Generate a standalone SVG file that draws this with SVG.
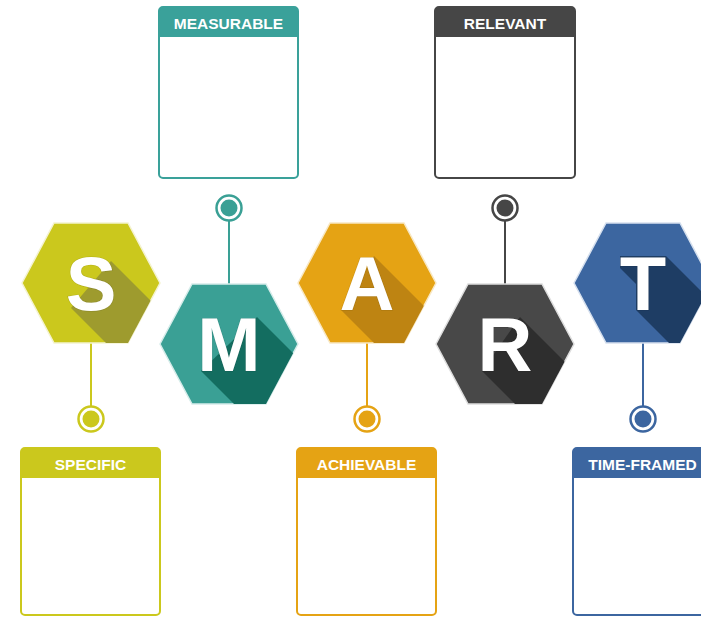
<svg xmlns="http://www.w3.org/2000/svg" width="701" height="617" viewBox="0 0 701 617">
<style>
.lbl{font-family:"Liberation Sans",Arial,sans-serif;font-weight:bold;font-size:15.5px;fill:#ffffff;text-anchor:middle}
.big{font-family:"Liberation Sans",Arial,sans-serif;font-weight:bold;font-size:76px;fill:#ffffff;text-anchor:middle;stroke:rgba(0,0,0,0.12);stroke-width:1.2;paint-order:stroke}
.frame{fill:none;stroke-width:2}
.conn{stroke-width:2;fill:none}
.ring{fill:#ffffff;stroke-width:2.5}
</style>
<defs>
<path id="hex" d="M-69,0 L-37,-60 L37,-60 L69,0 L37,60 L-37,60 Z"/>
<clipPath id="hexclip" clipPathUnits="userSpaceOnUse"><use href="#hex"/></clipPath>
</defs>
<rect width="701" height="617" fill="#ffffff"/>

<g id="connectors">
<line class="conn" x1="91" y1="342" x2="91" y2="406" stroke="#cbc81d"/>
<circle class="ring" cx="91" cy="419" r="12.5" stroke="#cbc81d"/><circle cx="91" cy="419" r="8.5" fill="#cbc81d"/>
<line class="conn" x1="229" y1="221" x2="229" y2="285" stroke="#3aa095"/>
<circle class="ring" cx="229" cy="208" r="12.5" stroke="#3aa095"/><circle cx="229" cy="208" r="8.5" fill="#3aa095"/>
<line class="conn" x1="367" y1="342" x2="367" y2="406" stroke="#e5a314"/>
<circle class="ring" cx="367" cy="419" r="12.5" stroke="#e5a314"/><circle cx="367" cy="419" r="8.5" fill="#e5a314"/>
<line class="conn" x1="505" y1="221" x2="505" y2="285" stroke="#464646"/>
<circle class="ring" cx="505" cy="208" r="12.5" stroke="#464646"/><circle cx="505" cy="208" r="8.5" fill="#464646"/>
<line class="conn" x1="643" y1="342" x2="643" y2="406" stroke="#3c66a0"/>
<circle class="ring" cx="643" cy="419" r="12.5" stroke="#3c66a0"/><circle cx="643" cy="419" r="8.5" fill="#3c66a0"/>
</g>

<g id="box-measurable">
<rect x="159" y="7" width="139" height="30" rx="4" fill="#3aa19a"/>
<rect x="159" y="27" width="139" height="10" fill="#3aa19a"/>
<rect class="frame" x="159" y="7" width="139" height="171" rx="4" stroke="#3aa19a"/>
<text class="lbl" x="228.5" y="28.5">MEASURABLE</text>
</g>
<g id="box-relevant">
<rect x="435" y="7" width="140" height="30" rx="4" fill="#464646"/>
<rect x="435" y="27" width="140" height="10" fill="#464646"/>
<rect class="frame" x="435" y="7" width="140" height="171" rx="4" stroke="#464646"/>
<text class="lbl" x="505" y="28.5">RELEVANT</text>
</g>
<g id="box-specific">
<rect x="21" y="448" width="139" height="30" rx="4" fill="#cbc81d"/>
<rect x="21" y="468" width="139" height="10" fill="#cbc81d"/>
<rect class="frame" x="21" y="448" width="139" height="167" rx="4" stroke="#cbc81d"/>
<text class="lbl" x="90.5" y="469.5">SPECIFIC</text>
</g>
<g id="box-achievable">
<rect x="297" y="448" width="139" height="30" rx="4" fill="#e5a314"/>
<rect x="297" y="468" width="139" height="10" fill="#e5a314"/>
<rect class="frame" x="297" y="448" width="139" height="167" rx="4" stroke="#e5a314"/>
<text class="lbl" x="366.5" y="469.5">ACHIEVABLE</text>
</g>
<g id="box-timeframed">
<rect x="573" y="448" width="139" height="30" rx="4" fill="#3c66a0"/>
<rect x="573" y="468" width="139" height="10" fill="#3c66a0"/>
<rect class="frame" x="573" y="448" width="139" height="167" rx="4" stroke="#3c66a0"/>
<text class="lbl" x="642.5" y="469.5">TIME-FRAMED</text>
</g>

<g id="node-S" transform="translate(91,283)">
<use href="#hex" fill="#cbc81d" stroke="#f4f3d0" stroke-width="1.5"/>
<polygon clip-path="url(#hexclip)" points="20,-22 130,88 90,135 -20,25" fill="#9e9b2e"/>
<text class="big" x="0" y="27">S</text>
</g>
<g id="node-M" transform="translate(229,344)">
<use href="#hex" fill="#3aa095" stroke="#d6ecea" stroke-width="1.5"/>
<polygon clip-path="url(#hexclip)" points="28,-27 138,83 82,137 -28,27" fill="#136d60"/>
<text class="big" x="0" y="27">M</text>
</g>
<g id="node-A" transform="translate(367,283)">
<use href="#hex" fill="#e5a314" stroke="#f8e8c4" stroke-width="1.5"/>
<polygon clip-path="url(#hexclip)" points="7,-27 117,83 84,137 -26,27" fill="#be8412"/>
<text class="big" x="0" y="27">A</text>
</g>
<g id="node-R" transform="translate(505,344)">
<use href="#hex" fill="#484848" stroke="#dddddd" stroke-width="1.5"/>
<polygon clip-path="url(#hexclip)" points="15,-27 125,83 87,137 -23,27" fill="#2e2e2e"/>
<text class="big" x="0" y="27">R</text>
</g>
<g id="node-T" transform="translate(643,283)">
<use href="#hex" fill="#3c66a0" stroke="#d6e0ee" stroke-width="1.5"/>
<polygon clip-path="url(#hexclip)" points="23,-27 133,83 103,137 -7,27 -7,1 -23,-15 -23,-27" fill="#1e3d64"/>
<text class="big" x="0" y="27">T</text>
</g>
</svg>
